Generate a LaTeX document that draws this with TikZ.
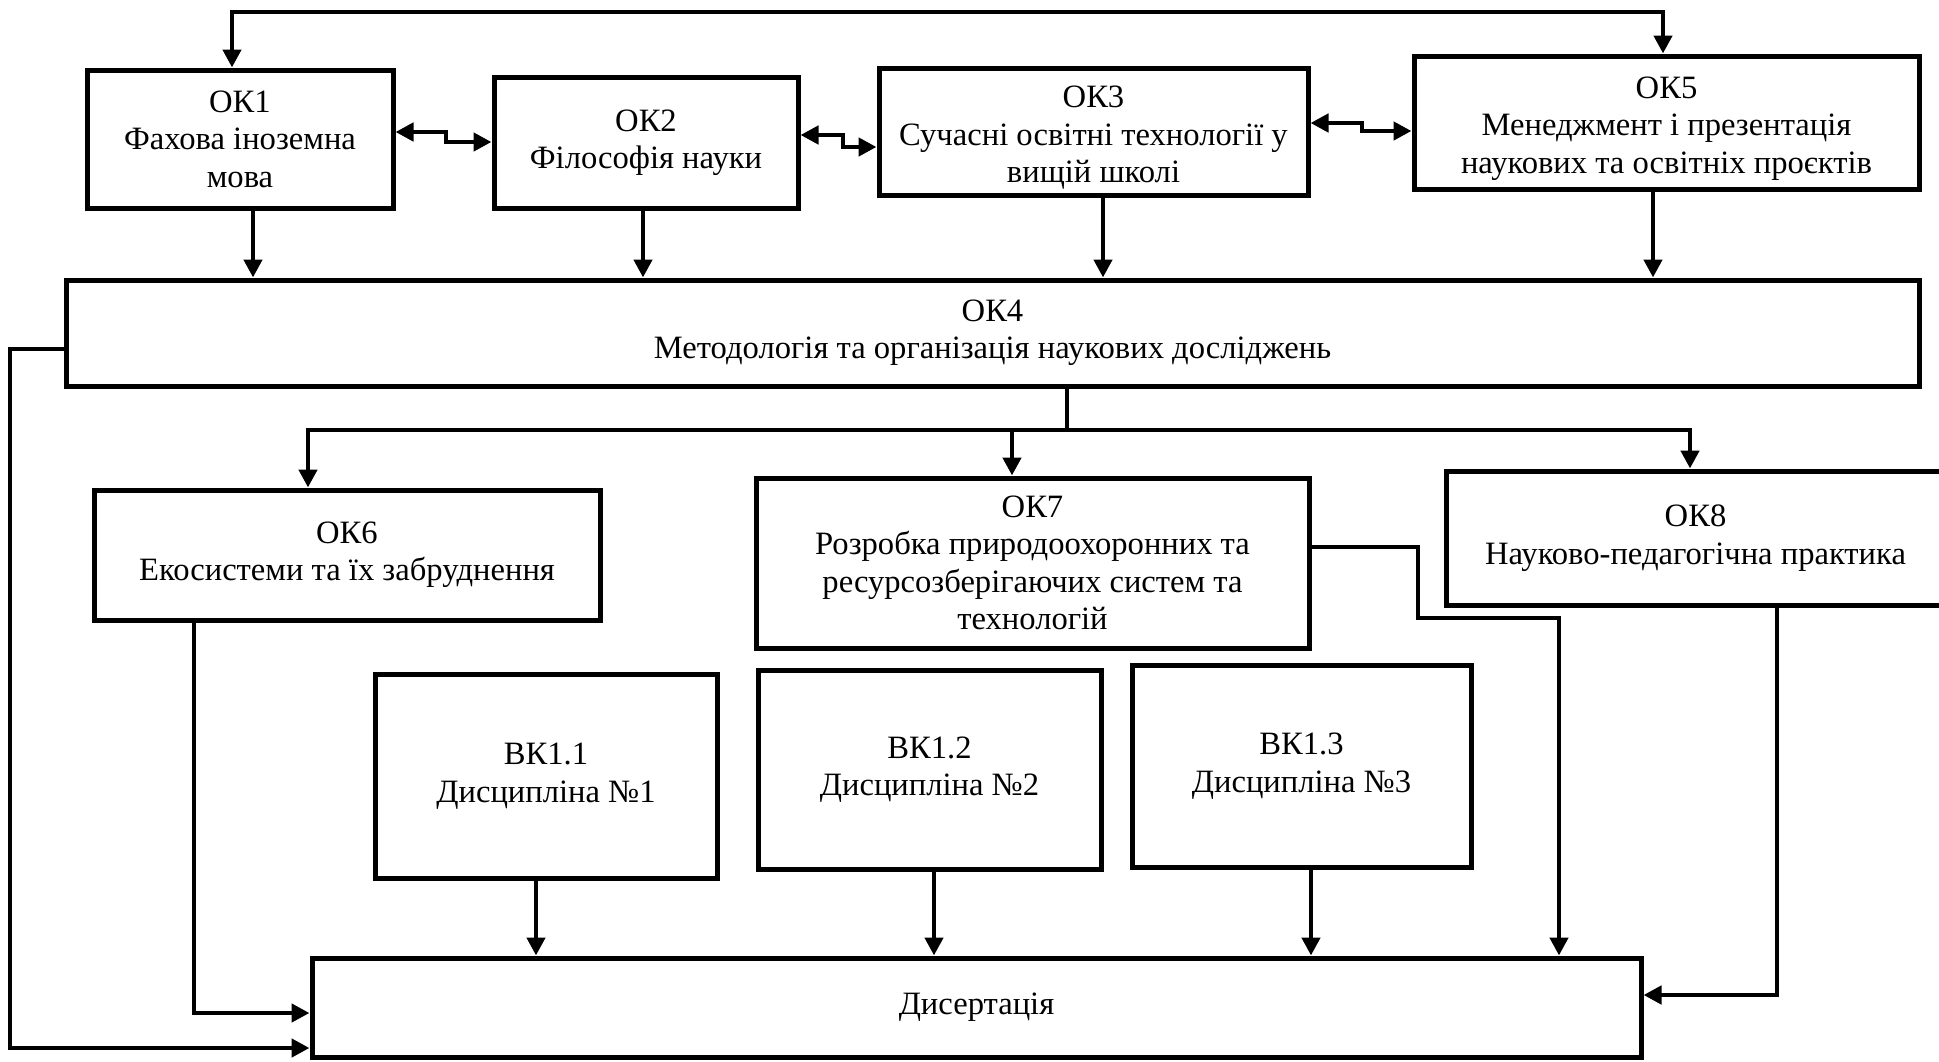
\documentclass[tikz,border=0pt]{standalone}
\usepackage{fontspec}
\setmainfont{Liberation Serif}
\usetikzlibrary{positioning,arrows.meta}

\begin{document}
\begin{tikzpicture}[x=0.5pt, y=-0.5pt,
      blk/.style={rectangle, draw=black, line width=2.5pt, fill=white,
        inner sep=0pt, align=center, font=\fontsize{16.3}{18.7}\selectfont},
      arr/.style={-{Triangle[width=9pt,length=9pt]}, line width=2.4pt},
      arrs/.style={{Triangle[width=9pt,length=9pt]}-{Triangle[width=9pt,length=9pt]}, line width=2.4pt}
    ]
      \useasboundingbox (0,0) rectangle (1939,1061);
      % top row
      \node[blk, minimum width=153pt, minimum height=69pt] (ok1) at (240,139) {ОК1\\Фахова іноземна\\мова};
      \node[blk, minimum width=152pt, minimum height=65.5pt] (ok2) at (646,142.5) {ОК2\\Філософія науки};
      \node[blk, minimum width=214.5pt, minimum height=63.5pt] (ok3) at (1093.5,131.5) {\rule{0pt}{17pt}ОК3\\Сучасні освітні технології у\\вищій школі};
      \node[blk, minimum width=252.5pt, minimum height=66.5pt] (ok5) at (1666.5,122.5) {\rule{0pt}{17pt}ОК5\\Менеджмент і презентація\\наукових та освітніх проєктів};
      \node[blk, minimum width=926.5pt, minimum height=53pt] (ok4) at (992.5,333) {ОК4\\Методологія та організація наукових досліджень};
      % middle row
      \node[blk, minimum width=253pt, minimum height=65pt] (ok6) at (347,555) {ОК6\\Екосистеми та їх забруднення};
      \node[blk, minimum width=276.5pt, minimum height=85pt] (ok7) at (1032.5,563) {ОК7\\Розробка природоохоронних та\\ресурсозберігаючих систем та\\технологій};
      \node[blk, minimum width=249.5pt, minimum height=67pt] (ok8) at (1695.5,538) {ОК8\\Науково-педагогічна практика};
      % elective disciplines
      \node[blk, minimum width=171pt, minimum height=102pt] (vk1) at (546,776) {ВК1.1\\Дисципліна №1};
      \node[blk, minimum width=171.5pt, minimum height=99.5pt] (vk2) at (929.5,769.5) {ВК1.2\\Дисципліна №2};
      \node[blk, minimum width=169.5pt, minimum height=101pt] (vk3) at (1301.5,766) {ВК1.3\\Дисципліна №3};
      \node[blk, minimum width=664.5pt, minimum height=49.5pt] (dys) at (976.5,1007.5) {Дисертація};

      \coordinate (tl) at (232,12); \coordinate (tr) at (1663,12);
      \coordinate (br) at (1067,430); \coordinate (lp) at (10,1048);

      \draw[arrs] (ok1.north -| tl) -- (tl) -- (tr) -- (ok5.north -| tr);
      \draw[arrs] (ok1.east |- 0,132) -- (446,132) |- (ok2.west |- 0,142);
      \draw[arrs] (ok2.east |- 0,135) -- (843,135) |- (ok3.west |- 0,147);
      \draw[arrs] (ok3.east |- 0,123) -- (1362,123) |- (ok5.west |- 0,131);

      \draw[arr] (ok1.south -| 253,0) -- (ok4.north -| 253,0); \draw[arr] (ok2.south -| 643,0) -- (ok4.north -| 643,0);
      \draw[arr] (ok3.south -| 1103,0) -- (ok4.north -| 1103,0); \draw[arr] (ok5.south -| 1653,0) -- (ok4.north -| 1653,0);

      \draw[line width=2.4pt] (ok4.south -| br) -- (br);
      \draw[arr] (br) -| (ok6.north -| 308,0); \draw[arr] (br) -| (ok8.north -| 1690,0);
      \draw[arr] (br -| 1012,0) -- (ok7.north -| 1012,0);

      \draw[arr] (ok4.west |- 0,349) -| (lp) -- (dys.west |- lp);
      \draw[arr] (ok6.south -| 194,0) |- (dys.west |- 0,1013);
      \draw[arr] (ok7.east |- 0,547) -| (1418,618) -| (dys.north -| 1559,0);
      \draw[arr] (ok8.south -| 1777,0) |- (dys.east |- 0,995);

      \draw[arr] (vk1.south -| 536,0) -- (dys.north -| 536,0); \draw[arr] (vk2.south -| 934,0) -- (dys.north -| 934,0);
      \draw[arr] (vk3.south -| 1311,0) -- (dys.north -| 1311,0);
    \end{tikzpicture}
\end{document}
